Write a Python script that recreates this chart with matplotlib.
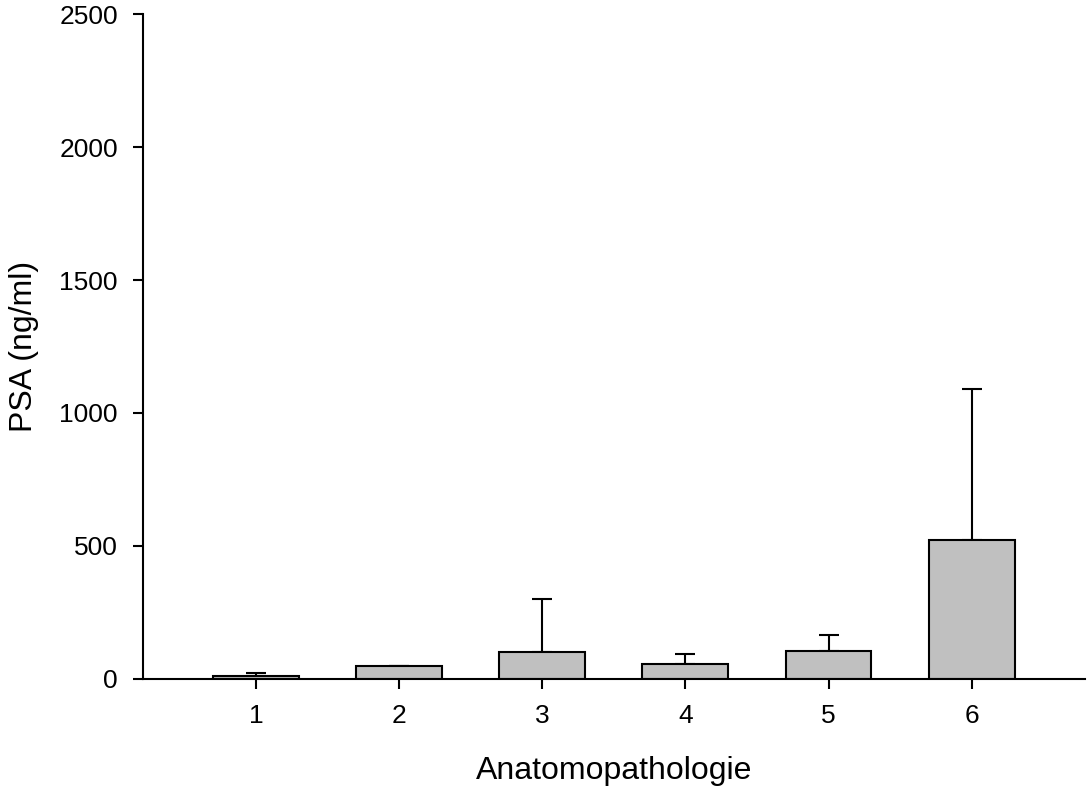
import matplotlib
matplotlib.use("Agg")
import matplotlib.pyplot as plt

# Data
groups = [1, 2, 3, 4, 5, 6]
psa_mean = [10, 48, 103, 55, 106, 523]
psa_err = [13, 0, 198, 40, 61, 569]
y_ticks = [0, 500, 1000, 1500, 2000, 2500]

plt.rcParams['font.family'] = ['Liberation Sans', 'DejaVu Sans']

fig = plt.figure(figsize=(10.88, 7.92), dpi=100)
ax = fig.add_axes([0.1314, 0.1427, 0.8656, 0.8396])

# upper error bars only, drawn behind the bars
ax.errorbar(groups, psa_mean, yerr=[[0] * len(groups), psa_err], fmt='none',
            ecolor='black', elinewidth=1.5, capsize=7, capthick=1.5, zorder=1)
ax.bar(groups, psa_mean, width=0.6, color='#c0c0c0', edgecolor='black',
       linewidth=1.5, zorder=2)

ax.set_xlim(0.21, 6.79)
ax.set_ylim(0, 2500)
ax.set_xticks(groups)
ax.set_yticks(y_ticks)

for side in ['top', 'right']:
    ax.spines[side].set_visible(False)
for side in ['left', 'bottom']:
    ax.spines[side].set_linewidth(1.5)

ax.tick_params(axis='both', direction='out', length=7, width=1.5, labelsize=19)
ax.tick_params(axis='x', pad=11)
ax.tick_params(axis='y', pad=11)

ax.set_xlabel('Anatomopathologie', fontsize=23, labelpad=20)
ax.set_ylabel('PSA (ng/ml)', fontsize=23, labelpad=15)

fig.savefig('out.png', dpi=100)
